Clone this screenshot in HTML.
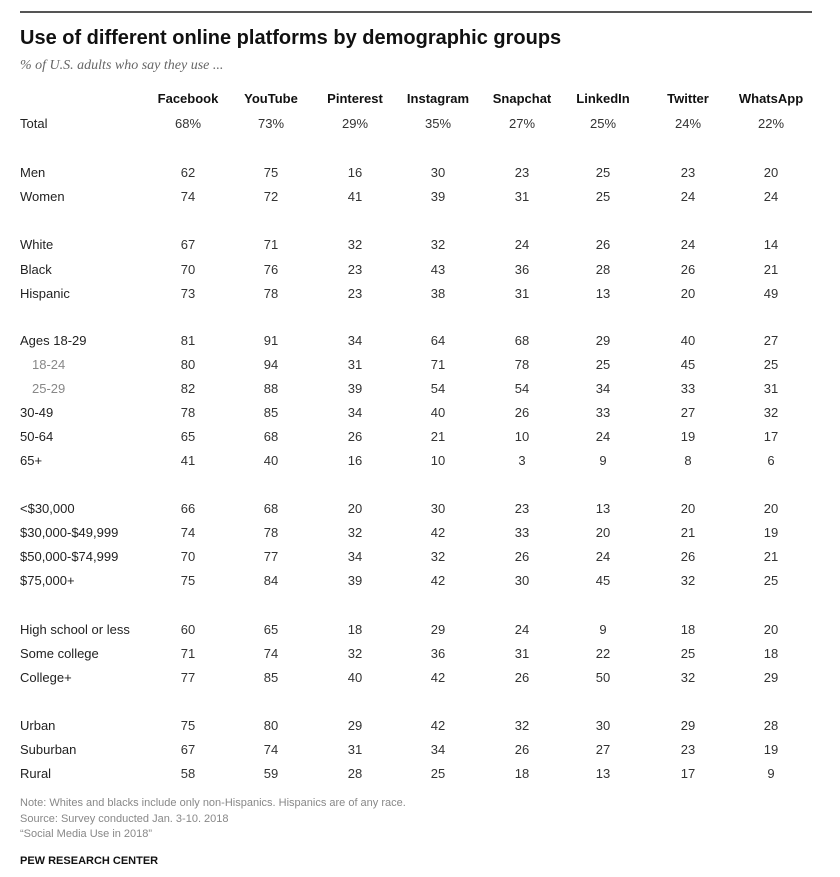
<!DOCTYPE html>
<html><head><meta charset="utf-8"><style>
body{margin:0;width:840px;height:877px;background:#fff;font-family:"Liberation Sans",sans-serif;position:relative;overflow:hidden;color:#222}
.a{position:absolute;white-space:nowrap}
.c{transform:translateX(-50%)}
.v{font-size:13px;color:#333}
.h{font-size:13px;font-weight:bold;color:#111}
.l{font-size:13px;color:#222}
.note{font-size:11px;color:#888}
</style></head><body>
<div class="a" style="left:20px;top:11px;width:792px;height:2px;background:#555"></div>
<div class="a" style="left:20px;top:27px;font-size:20px;font-weight:bold;color:#111">Use of different online platforms by demographic groups</div>
<div class="a" style="left:20px;top:58px;font-size:14px;font-style:italic;font-family:'Liberation Serif',serif;color:#666">% of U.S. adults who say they use ...</div>
<div id="tbl"></div>
<div class="a note" style="left:20px;top:797px">Note: Whites and blacks include only non-Hispanics. Hispanics are of any race.</div>
<div class="a note" style="left:20px;top:813px">Source: Survey conducted Jan. 3-10. 2018</div>
<div class="a note" style="left:20px;top:828px">“Social Media Use in 2018”</div>
<div class="a" style="left:20px;top:855px;font-size:11px;font-weight:bold;color:#111">PEW RESEARCH CENTER</div>
<script>
const platforms=["Facebook","YouTube","Pinterest","Instagram","Snapchat","LinkedIn","Twitter","WhatsApp"];
const groups=["Total","Men","Women","White","Black","Hispanic","Ages 18-29","18-24","25-29","30-49","50-64","65+","<$30,000","$30,000-$49,999","$50,000-$74,999","$75,000+","High school or less","Some college","College+","Urban","Suburban","Rural"];
const rowY=[124,173,197,245,270,294,341,365,389,413,437,461,509,533,557,581,630,654,678,726,750,774];
const values=[
[68,73,29,35,27,25,24,22],
[62,75,16,30,23,25,23,20],
[74,72,41,39,31,25,24,24],
[67,71,32,32,24,26,24,14],
[70,76,23,43,36,28,26,21],
[73,78,23,38,31,13,20,49],
[81,91,34,64,68,29,40,27],
[80,94,31,71,78,25,45,25],
[82,88,39,54,54,34,33,31],
[78,85,34,40,26,33,27,32],
[65,68,26,21,10,24,19,17],
[41,40,16,10,3,9,8,6],
[66,68,20,30,23,13,20,20],
[74,78,32,42,33,20,21,19],
[70,77,34,32,26,24,26,21],
[75,84,39,42,30,45,32,25],
[60,65,18,29,24,9,18,20],
[71,74,32,36,31,22,25,18],
[77,85,40,42,26,50,32,29],
[75,80,29,42,32,30,29,28],
[67,74,31,34,26,27,23,19],
[58,59,28,25,18,13,17,9]];
const colX=[188,271,355,438,522,603,688,771];
const t=document.getElementById('tbl');
platforms.forEach((p,j)=>{const d=document.createElement('div');d.className='a c h';d.style.left=colX[j]+'px';d.style.top='91px';d.textContent=p;


t.appendChild(d);});
groups.forEach((g,i)=>{const y=rowY[i]-8;const sub=(g==="18-24"||g==="25-29");
const l=document.createElement('div');l.className='a l';l.style.left=(sub?32:20)+'px';l.style.top=y+'px';if(sub)l.style.color='#888';l.textContent=g;


t.appendChild(l);
values[i].forEach((v,j)=>{const d=document.createElement('div');d.className='a c v';d.style.left=colX[j]+'px';d.style.top=y+'px';d.textContent=v+(i===0?'%':'');


t.appendChild(d);});});
</script>
</body></html>
